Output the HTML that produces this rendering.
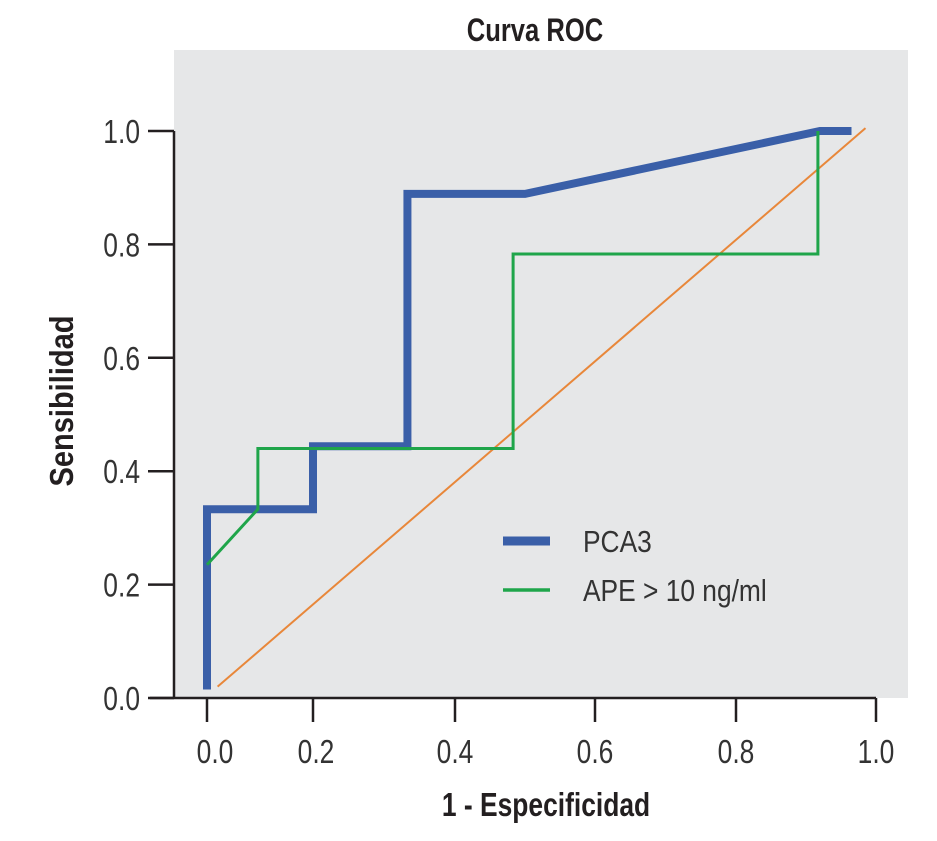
<!DOCTYPE html>
<html><head><meta charset="utf-8"><style>
body{margin:0;background:#fff;}
svg{display:block;}
.t{font-family:"Liberation Sans",sans-serif;}
</style></head><body>
<svg width="937" height="841" viewBox="0 0 937 841">
<rect x="174" y="50" width="734" height="648" fill="#e6e7e8"/>
<g id="g"></g>
<line x1="150" y1="698" x2="876" y2="698" stroke="#231f20" stroke-width="2.5"/>
<line x1="174" y1="131" x2="174" y2="698" stroke="#231f20" stroke-width="2.5"/>
<text x="535" y="41" text-anchor="middle" class="t" font-size="32" font-weight="bold" fill="#231f20" transform="translate(535,0) scale(0.8,1) translate(-535,0)">Curva ROC</text>
<text x="0" y="0" text-anchor="middle" class="t" font-size="33" font-weight="bold" fill="#231f20" transform="translate(73,401) rotate(-90) scale(0.88,1)">Sensibilidad</text>
<text x="546" y="816" text-anchor="middle" class="t" font-size="33" font-weight="bold" fill="#231f20" transform="translate(546,0) scale(0.8,1) translate(-546,0)">1 - Especificidad</text>
<line x1="503" y1="541" x2="550" y2="541" stroke="#3a5fa8" stroke-width="9"/>
<text x="583" y="552" class="t" font-size="31" fill="#333" transform="translate(583,0) scale(0.85,1) translate(-583,0)">PCA3</text>
<line x1="503" y1="590" x2="550" y2="590" stroke="#1fa54a" stroke-width="3.5"/>
<text x="583" y="601" class="t" font-size="31" fill="#333" transform="translate(583,0) scale(0.85,1) translate(-583,0)">APE &gt; 10 ng/ml</text>
</svg>
<script>
const xTicks=[0,0.2,0.4,0.6,0.8,1.0];
const xTickLabels=["0.0","0.2","0.4","0.6","0.8","1.0"];
const yTicks=[0,0.2,0.4,0.6,0.8,1.0];
const yTickLabels=["0.0","0.2","0.4","0.6","0.8","1.0"];
const pcaX=[0,0,0.2,0.2,0.333,0.333,0.5,0.92,0.965];
const pcaY=[0.015,0.333,0.333,0.444,0.444,0.889,0.889,1.0,1.0];
const apeX=[0,0.096,0.096,0.483,0.483,0.917,0.917];
const apeY=[0.235,0.333,0.44,0.44,0.783,0.783,1.0];
const refX=[0.02,0.985];
const refY=[0.02,1.005];
const xPix=[207,313,455,595,736,876];
function sx(v){let i=Math.min(Math.max(Math.floor(v/0.2),0),4);return xPix[i]+(v-i*0.2)/0.2*(xPix[i+1]-xPix[i]);}
function sy(v){return 698-v*567;}
const NS="http://www.w3.org/2000/svg";
const g=document.getElementById('g');
const svg=document.querySelector('svg');
xTicks.forEach((v,i)=>{
 const l=document.createElementNS(NS,'line');
 l.setAttribute('x1',sx(v));l.setAttribute('x2',sx(v));l.setAttribute('y1',698);l.setAttribute('y2',722);
 l.setAttribute('stroke','#231f20');l.setAttribute('stroke-width','2.5');
 
 
 svg.appendChild(l);
 const t=document.createElementNS(NS,'text');
 t.setAttribute('x',0);t.setAttribute('y',0);t.setAttribute('class','t');t.setAttribute('font-size','33');t.setAttribute('fill','#333');t.setAttribute('text-anchor','middle');
 t.setAttribute('transform','translate('+(sx(v)+(i==0?8:(i==1?3:0)))+',763) scale(0.8,1)');
 t.textContent=xTickLabels[i];
 
 
 svg.appendChild(t);
});
yTicks.forEach((v,i)=>{
 const l=document.createElementNS(NS,'line');
 l.setAttribute('x1',148);l.setAttribute('x2',174);l.setAttribute('y1',sy(v));l.setAttribute('y2',sy(v));
 l.setAttribute('stroke','#231f20');l.setAttribute('stroke-width','2.5');
 
 
 svg.appendChild(l);
 const t=document.createElementNS(NS,'text');
 t.setAttribute('x',0);t.setAttribute('y',0);t.setAttribute('class','t');t.setAttribute('font-size','33');t.setAttribute('fill','#333');t.setAttribute('text-anchor','end');
 t.setAttribute('transform','translate(140,'+(sy(v)+12)+') scale(0.8,1)');
 t.textContent=yTickLabels[i];
 
 
 svg.appendChild(t);
});
function line(xs,ys,color,w,name){
 const p=document.createElementNS(NS,'polyline');
 p.setAttribute('points',xs.map((x,i)=>sx(x)+','+sy(ys[i])).join(' '));
 p.setAttribute('fill','none');p.setAttribute('stroke',color);p.setAttribute('stroke-width',w);
 p.setAttribute('stroke-linejoin','miter');
 
 
 g.appendChild(p);
}
line(refX,refY,'#e8873a',2,'reference-diagonal');
line(pcaX,pcaY,'#3a5fa8',8,'pca3-curve');
line(apeX,apeY,'#1fa54a',3,'ape-curve');
</script>
</body></html>
